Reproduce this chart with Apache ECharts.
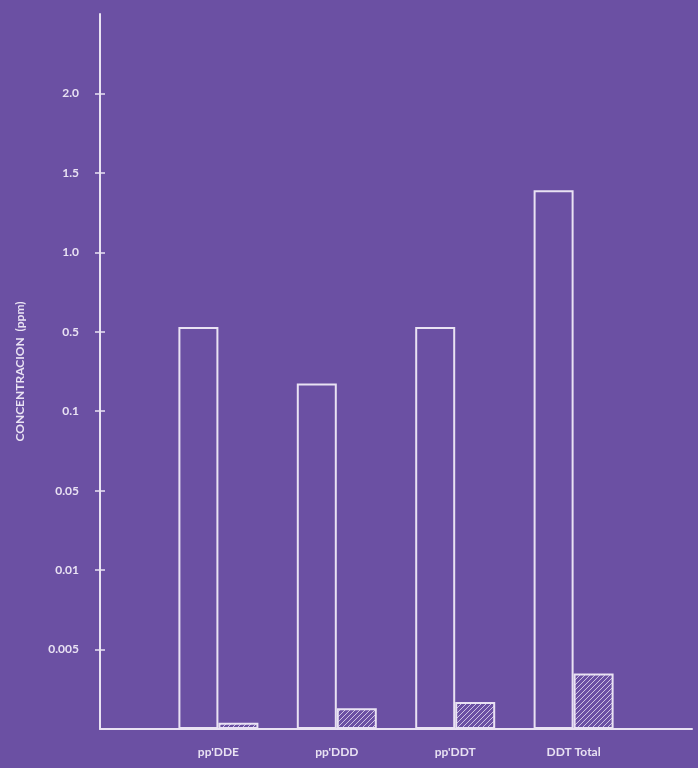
<!DOCTYPE html>
<html>
<head>
<meta charset="utf-8">
<script src="https://cdn.jsdelivr.net/npm/echarts@6/dist/echarts.min.js"></script>
<style>
  html, body { margin: 0; padding: 0; background: #6b50a3; }
  #chart { width: 698px; height: 768px; }
</style>
</head>
<body>
<div id="chart"></div>
<script>
  // categories (blank slots at both ends keep the spacing of the original)
  var categories = ['', "pp'DDE", "pp'DDD", "pp'DDT", 'DDT Total', ''];

  // tick labels of the y axis, evenly spaced in the original
  var tickValues = [0, 0.005, 0.01, 0.05, 0.1, 0.5, 1.0, 1.5, 2.0];
  var tickLabels = ['', '0.005', '0.01', '0.05', '0.1', '0.5', '1.0', '1.5', '2.0'];

  // concentrations in ppm
  var whiteBars = [0.53, 0.24, 0.53, 1.39];
  var hatchedBars = [0.0004, 0.0013, 0.0017, 0.0035];

  var lineColor = '#e9e2f3';
  var bg = '#6b50a3';

  // ppm -> position on the evenly spaced axis
  function toAxis(v) {
    for (var i = 1; i < tickValues.length; i++) {
      if (v <= tickValues[i]) {
        return (i - 1) + (v - tickValues[i - 1]) / (tickValues[i] - tickValues[i - 1]);
      }
    }
    return tickValues.length - 1;
  }

  function padData(arr) {
    var out = ['-'];
    for (var i = 0; i < arr.length; i++) {
      out.push({ value: toAxis(arr[i]), ppm: arr[i] });
    }
    out.push('-');
    return out;
  }

  // hatch pattern
  var hatch = document.createElement('canvas');
  hatch.width = 5;
  hatch.height = 5;
  var ctx = hatch.getContext('2d');
  ctx.fillStyle = bg;
  ctx.fillRect(0, 0, 5, 5);
  ctx.strokeStyle = 'rgba(225,215,240,0.85)';
  ctx.lineWidth = 1;
  ctx.beginPath();
  ctx.moveTo(-1, 6); ctx.lineTo(6, -1);
  ctx.moveTo(-1, 1); ctx.lineTo(1, -1);
  ctx.moveTo(4, 6); ctx.lineTo(6, 4);
  ctx.stroke();

  var chart = echarts.init(document.getElementById('chart'));

  var labelFont = {
    color: lineColor,
    fontFamily: 'Lato',
    fontWeight: 'bold',
    fontSize: 12
  };

  var yTicks = [1, 2, 3, 4, 5, 6, 7, 8];

  var option = {
    backgroundColor: bg,
    animation: false,
    grid: { left: 100, right: 6, top: 14, bottom: 39 },
    xAxis: {
      type: 'category',
      data: categories,
      boundaryGap: false,
      axisLine: { lineStyle: { color: lineColor, width: 2 } },
      axisTick: { show: false },
      axisLabel: Object.assign({ interval: 0, margin: 17 }, labelFont),
      splitLine: { show: false }
    },
    yAxis: [
      {
        type: 'value',
        min: 0,
        max: 9,
        interval: 1,
        name: 'CONCENTRACION  (ppm)',
        nameLocation: 'middle',
        nameGap: 74,
        nameTextStyle: {
          color: lineColor,
          fontFamily: 'Lato',
          fontWeight: 'bold',
          fontSize: 12
        },
        axisLine: { show: true, lineStyle: { color: lineColor, width: 2 } },
        axisTick: { show: true, length: 5, customValues: yTicks, lineStyle: { color: lineColor, width: 1.5 } },
        axisLabel: Object.assign({
          margin: 21,
          customValues: yTicks,
          formatter: function (v) { return tickLabels[Math.round(v)] || ''; }
        }, labelFont),
        splitLine: { show: false }
      },
      {
        type: 'value',
        min: 0,
        max: 9,
        interval: 1,
        position: 'left',
        axisLine: { show: false },
        axisTick: { show: true, inside: true, length: 5, customValues: yTicks, lineStyle: { color: lineColor, width: 1.5 } },
        axisLabel: { show: false },
        splitLine: { show: false }
      }
    ],
    series: [
      {
        type: 'bar',
        data: padData(whiteBars),
        barWidth: 40,
        barGap: '0%',
        itemStyle: { color: 'rgba(0,0,0,0)', borderColor: lineColor, borderWidth: 2 }
      },
      {
        type: 'bar',
        data: padData(hatchedBars),
        barWidth: 40,
        itemStyle: { color: { image: hatch, repeat: 'repeat' }, borderColor: lineColor, borderWidth: 2 }
      }
    ]
  };

  chart.setOption(option);
</script>
</body>
</html>
